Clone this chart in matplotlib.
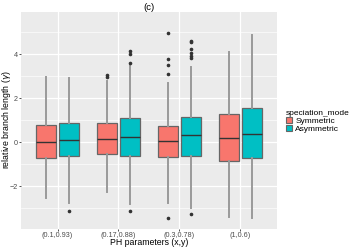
import numpy as np
import matplotlib
matplotlib.use('Agg')
import matplotlib.pyplot as plt
from matplotlib.patches import Patch

plt.rcParams['font.family'] = 'Liberation Sans'

# data
groups = ['(0.1,0.93)', '(0.17,0.88)', '(0.3,0.78)', '(1,0.6)']
modes = ['Symmetric', 'Asymmetric']
colors = ['#F8766D', '#00BFC4']

# [whislo, q1, med, q3, whishi]
sym_stats = [
    [-2.53, -0.71, 0.00, 0.79, 2.95],
    [-2.24, -0.55, 0.17, 0.86, 2.79],
    [-2.76, -0.68, 0.07, 0.76, 2.71],
    [-3.41, -0.86, 0.20, 1.27, 4.12],
]
asym_stats = [
    [-2.76, -0.62, 0.10, 0.89, 2.90],
    [-2.80, -0.61, 0.25, 1.09, 3.55],
    [-2.97, -0.62, 0.35, 1.14, 3.41],
    [-3.44, -0.73, 0.39, 1.55, 4.88],
]
sym_fliers = [
    [],
    [3.05, 2.98],
    [4.95, 3.80, 3.50, 3.09, -3.45],
    [],
]
asym_fliers = [
    [-3.14],
    [4.16, 4.01, 3.60, -3.10],
    [4.60, 4.55, 4.25, 4.05, 3.92, 3.82, -3.26],
    [],
]

fig = plt.figure(figsize=(3.51, 2.48), dpi=100)
ax = fig.add_axes([0.0598, 0.0766, 0.729, 0.875])
ax.set_facecolor('#EBEBEB')

x = np.arange(1, len(groups) + 1)
offset = 0.187
width = 0.335

for k, (stats, fl) in enumerate([(sym_stats, sym_fliers), (asym_stats, asym_fliers)]):
    bstats = []
    for s, f in zip(stats, fl):
        bstats.append(dict(whislo=s[0], q1=s[1], med=s[2], q3=s[3], whishi=s[4], fliers=f))
    pos = x + (offset if k else -offset)
    ax.bxp(bstats, positions=pos, widths=width, patch_artist=True, showcaps=False,
           boxprops=dict(facecolor=colors[k], edgecolor='#666666', linewidth=0.9),
           medianprops=dict(color='#333333', linewidth=1.0),
           whiskerprops=dict(color='#999999', linewidth=1.4),
           flierprops=dict(marker='o', markersize=1.6, markerfacecolor='#333333',
                           markeredgecolor='#333333'),
           zorder=3)

ax.set_xlim(0.4, 4.6)
ax.set_ylim(-3.94, 5.92)
ax.set_xticks(x)
ax.set_xticklabels(groups)
ax.set_yticks([-2, 0, 2, 4])
ax.set_yticks([-3, -1, 1, 3, 5], minor=True)
ax.set_xticks([], minor=True)
ax.grid(which='major', color='white', linewidth=0.9, zorder=0)
ax.grid(which='minor', axis='y', color='white', linewidth=0.45, zorder=0)
ax.set_axisbelow(True)
for sp in ax.spines.values():
    sp.set_visible(False)
ax.tick_params(which='both', length=1.5, width=0.6, color='#333333',
               labelsize=5.2, labelcolor='#4D4D4D', pad=0.6)
ax.tick_params(which='minor', length=0)

fig.text(149 / 351, 0.022, 'PH parameters (x,y)', fontsize=6.3, ha='center', va='center')
fig.text(7 / 351, 0.516, 'relative branch length ($\\gamma$)', fontsize=6.3,
         rotation=90, ha='center', va='center')
ax.set_title('(c)', fontsize=6.8, pad=1.5)

handles = [Patch(facecolor=c, edgecolor='#666666', linewidth=0.8) for c in colors]
leg = fig.legend(handles, modes, title='speciation_mode', loc='upper left',
                 bbox_to_anchor=(0.803, 0.575), frameon=False, fontsize=6,
                 title_fontsize=6, handlelength=0.7, handleheight=0.7,
                 handletextpad=0.4, labelspacing=0.05, borderpad=0)
leg._legend_box.align = 'left'

fig.savefig('out.png', dpi=100)
